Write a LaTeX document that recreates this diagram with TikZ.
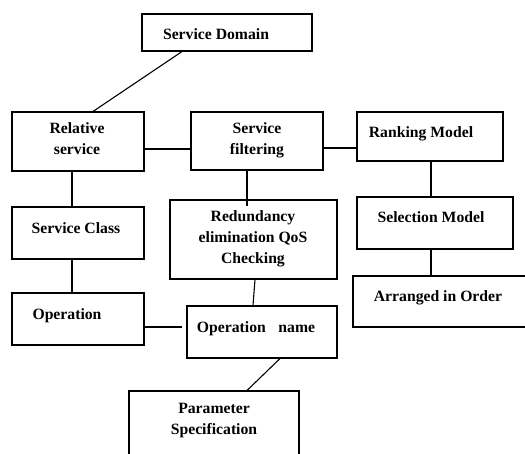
\documentclass[tikz,border=0pt]{standalone}
\usepackage{fontspec}
\setmainfont{Liberation Serif}
\begin{document}
\begin{tikzpicture}[x=1pt,y=-1pt,line width=1.1pt,
  box/.style={draw,inner sep=0pt},
  txt/.style={font=\bfseries\fontsize{15.7}{21}\selectfont,align=center,inner sep=0pt,anchor=north,execute at begin node=\strut}]

  \clip (0,0) rectangle (525,453);

  \node[box,minimum width=170,minimum height=37] (a) at (227,32.5) {};
  \node[box,minimum width=132,minimum height=59] (b) at (78,141.5) {};
  \node[box,minimum width=132,minimum height=58] (c) at (257,141) {};
  \node[box,minimum width=146,minimum height=49] (d) at (430,136.5) {};
  \node[box,minimum width=132,minimum height=52] (e) at (78,233) {};
  \node[box,minimum width=167,minimum height=79] (f) at (253.5,239.5) {};
  \node[box,minimum width=156,minimum height=52] (g) at (435,223) {};
  \node[box,minimum width=132,minimum height=52] (h) at (78,319) {};
  \node[box,minimum width=150,minimum height=52] (i) at (262,332) {};
  \node[box,minimum width=192,minimum height=51] (j) at (449,301.5) {};
  \node[box,minimum width=170,minimum height=79] (k) at (214,430.5) {};

  \node[txt] (ta) at (216,24.3) {Service Domain};
  \node[txt] (tb) at (77,122.3) {Relative\\service};
  \node[txt] (tc) at (257,122.3) {Service\\filtering};
  \node[txt] (td) at (421,122.3) {Ranking Model};
  \node[txt] (te) at (76,218.3) {Service Class};
  \node[txt] (tf) at (253,210.3) {Redundancy\\elimination QoS\\Checking};
  \node[txt] (tg) at (431,207.3) {Selection Model};
  \node[txt] (th) at (67,304.3) {Operation};
  \node[txt] (ti) at (256,317.3) {Operation\hspace{0.8em}name};
  \node[txt] (tj) at (438,286.3) {Arranged in Order};
  \node[txt] (tk) at (214,402.3) {Parameter\\Specification};

  \draw ([xshift=-45pt]a.south) to ([xshift=15pt]b.north);
  \draw ([yshift=-7.5pt]b.east) to ([yshift=-8pt]c.west);
  \draw ([yshift=-7pt]c.east) to ([yshift=-11.5pt]d.west);
  \draw ([xshift=-6pt]b.south) to ([xshift=-6pt]e.north);
  \draw ([xshift=-10pt]c.south) to ([xshift=-6.5pt,yshift=-7pt]f.north);
  \draw ([xshift=1pt]d.south) to ([xshift=-4pt]g.north);
  \draw ([xshift=-4pt]g.south) to ([xshift=-18pt]j.north);
  \draw ([xshift=-6pt]e.south) to ([xshift=-6pt]h.north);
  \draw ([xshift=1.5pt]f.south) to ([xshift=-9pt]i.north);
  \draw ([yshift=-8pt]h.east) to ([xshift=-4pt,yshift=5pt]i.west);
  \draw ([xshift=18pt]i.south) to ([xshift=33pt]k.north);

\end{tikzpicture}
\end{document}
